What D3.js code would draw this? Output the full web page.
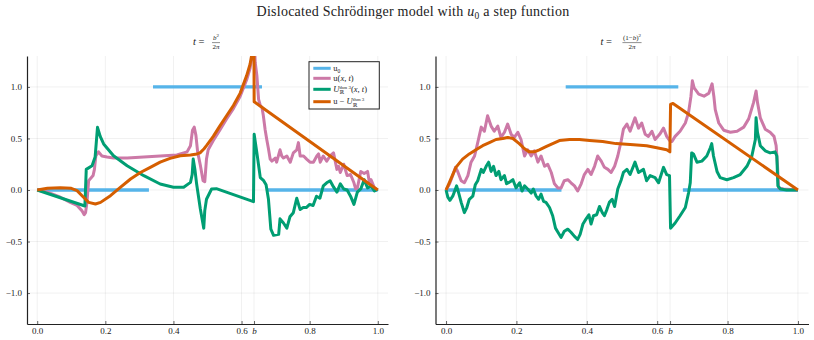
<!DOCTYPE html>
<html><head><meta charset="utf-8">
<script src="https://cdn.jsdelivr.net/npm/d3@7"></script>
<style>
body{margin:0;background:#fff}
svg{display:block}
text{font-family:"Liberation Serif","DejaVu Serif",serif;fill:#222;white-space:pre}
</style>
</head><body><svg id="c" width="814" height="340"></svg>
<script>
const B = 2 / Math.PI;
const xTicks = [0, 0.2, 0.4, 0.6, B, 0.8, 1.0];
const xTickLabels = ["0.0", "0.2", "0.4", "0.6", "b", "0.8", "1.0"];
const yTicks = [-1, -0.5, 0, 0.5, 1];
const yTickLabels = ["−1.0", "−0.5", "0.0", "0.5", "1.0"];
const colors = ["#56B4E9", "#CC79A7", "#009E73", "#D55E00"];

// u0 step function (gaps at the jumps)
const u0X = [0, 0.328, null, 0.34, 0.66, null, 0.673, 1];
const u0Y = [0, 0, null, 1, 1, null, 0, 0];

// left panel  t = b^2/(2π)
const leftU = [[0,0],[0.03,-0.02],[0.068,-0.07],[0.097,-0.12],[0.117,-0.15],[0.131,-0.2],[0.138,-0.24],[0.142,-0.22],[0.146,-0.12],[0.151,0.09],[0.156,0.11],[0.164,0.14],[0.168,0.2],[0.172,0.33],[0.18,0.37],[0.19,0.33],[0.205,0.32],[0.224,0.31],[0.264,0.31],[0.313,0.32],[0.361,0.33],[0.41,0.34],[0.44,0.37],[0.45,0.43],[0.456,0.58],[0.461,0.61],[0.466,0.53],[0.471,0.37],[0.479,0.24],[0.487,0.09],[0.492,0.08],[0.497,0.3],[0.502,0.39],[0.517,0.48],[0.536,0.58],[0.556,0.69],[0.576,0.79],[0.596,0.91],[0.615,1.07],[0.625,1.18],[0.632,1.32],[0.636,1.6],[0.64,1.24],[0.645,1.11],[0.65,0.88],[0.655,0.82],[0.66,0.80],[0.664,0.72],[0.669,0.59],[0.674,0.49],[0.679,0.4],[0.684,0.3],[0.689,0.28],[0.699,0.31],[0.703,0.27],[0.713,0.39],[0.718,0.33],[0.723,0.31],[0.733,0.33],[0.743,0.27],[0.752,0.36],[0.762,0.39],[0.767,0.46],[0.772,0.33],[0.782,0.33],[0.791,0.30],[0.801,0.27],[0.811,0.27],[0.821,0.33],[0.826,0.35],[0.831,0.27],[0.84,0.33],[0.85,0.28],[0.86,0.33],[0.87,0.36],[0.88,0.2],[0.885,0.23],[0.89,0.17],[0.9,0.25],[0.91,0.14],[0.92,0.15],[0.93,0.07],[0.935,0.01],[0.94,0.02],[0.95,0.18],[0.96,0.16],[0.97,0.18],[0.975,0.08],[0.98,0.1],[0.99,0.02],[1.0,0]];
const leftR = [[0,0],[0.14,-0.155],[0.144,0.2],[0.161,0.236],[0.17,0.32],[0.177,0.608],[0.185,0.52],[0.195,0.447],[0.224,0.333],[0.264,0.236],[0.313,0.139],[0.361,0.058],[0.4,0.026],[0.43,0.026],[0.45,0.074],[0.455,0.15],[0.458,0.30],[0.463,0.2],[0.468,0.06],[0.479,-0.184],[0.489,-0.37],[0.492,-0.2],[0.497,-0.09],[0.512,0.01],[0.526,0.013],[0.635,-0.113],[0.637,0.54],[0.645,0.36],[0.655,0.12],[0.665,0.09],[0.672,0.05],[0.679,-0.09],[0.686,-0.38],[0.694,-0.44],[0.709,-0.43],[0.713,-0.28],[0.723,-0.32],[0.733,-0.37],[0.742,-0.26],[0.752,-0.22],[0.762,-0.08],[0.772,-0.19],[0.781,-0.17],[0.79,-0.17],[0.8,-0.14],[0.81,-0.15],[0.82,-0.06],[0.83,-0.08],[0.84,0.04],[0.85,0.07],[0.86,0.09],[0.87,0.03],[0.88,-0.02],[0.89,0.06],[0.9,0.01],[0.91,0.0],[0.92,-0.06],[0.93,-0.14],[0.94,-0.02],[0.95,0.01],[0.96,0.1],[0.97,0.02],[0.98,0.04],[0.99,-0.01],[1.0,0.01]];
const leftD = [[0,0],[0.03,0.016],[0.068,0.023],[0.1,0.016],[0.117,-0.006],[0.136,-0.07],[0.151,-0.12],[0.171,-0.136],[0.186,-0.12],[0.215,-0.055],[0.244,0.026],[0.274,0.107],[0.303,0.17],[0.332,0.22],[0.361,0.27],[0.39,0.307],[0.42,0.333],[0.45,0.34],[0.469,0.35],[0.478,0.36],[0.49,0.40],[0.497,0.43],[0.517,0.52],[0.536,0.62],[0.556,0.72],[0.576,0.82],[0.596,0.94],[0.615,1.11],[0.625,1.22],[0.632,1.35],[0.636,1.7],[0.637,0.857],[1.0,0]];

// right panel  t = (1-b)^2/(2π)
const rightU = [[0,0],[0.01,0.06],[0.019,0.14],[0.027,0.22],[0.033,0.18],[0.043,0.09],[0.052,0.07],[0.062,0.14],[0.071,0.27],[0.081,0.33],[0.09,0.46],[0.1,0.61],[0.109,0.57],[0.118,0.72],[0.128,0.62],[0.137,0.57],[0.147,0.62],[0.156,0.51],[0.166,0.56],[0.175,0.64],[0.185,0.54],[0.194,0.51],[0.204,0.56],[0.213,0.49],[0.223,0.33],[0.232,0.39],[0.242,0.33],[0.251,0.38],[0.261,0.27],[0.27,0.33],[0.28,0.23],[0.289,0.25],[0.299,0.17],[0.308,0.06],[0.318,0.02],[0.327,0.02],[0.336,0.09],[0.346,0.1],[0.355,0.07],[0.365,0.04],[0.374,-0.01],[0.384,0.06],[0.393,0.15],[0.403,0.2],[0.412,0.15],[0.422,0.23],[0.431,0.33],[0.441,0.28],[0.45,0.22],[0.46,0.2],[0.469,0.17],[0.479,0.23],[0.488,0.33],[0.498,0.48],[0.504,0.59],[0.514,0.64],[0.523,0.57],[0.537,0.7],[0.547,0.6],[0.556,0.65],[0.566,0.54],[0.575,0.52],[0.585,0.57],[0.594,0.49],[0.607,0.54],[0.618,0.6],[0.627,0.52],[0.635,0.48],[0.642,0.47],[0.651,0.52],[0.665,0.57],[0.68,0.65],[0.689,0.75],[0.696,0.91],[0.7,1.06],[0.705,0.99],[0.718,0.93],[0.733,0.91],[0.747,0.94],[0.756,1.03],[0.761,0.91],[0.765,0.78],[0.775,0.65],[0.789,0.58],[0.808,0.56],[0.827,0.57],[0.846,0.61],[0.86,0.69],[0.874,0.85],[0.881,0.96],[0.885,0.85],[0.893,0.70],[0.907,0.59],[0.921,0.56],[0.932,0.52],[0.938,0.43],[0.942,0.23],[0.945,0.02],[0.959,0.01],[1.0,0]];
const rightR = [[0,0],[0.005,-0.07],[0.011,-0.1],[0.019,-0.06],[0.03,0.04],[0.036,-0.03],[0.043,-0.12],[0.052,-0.22],[0.059,-0.17],[0.066,-0.09],[0.076,-0.06],[0.083,0.05],[0.09,0.09],[0.1,0.2],[0.106,0.17],[0.114,0.23],[0.121,0.27],[0.128,0.18],[0.135,0.23],[0.142,0.14],[0.15,0.18],[0.156,0.1],[0.166,0.14],[0.172,0.06],[0.182,0.08],[0.19,0.1],[0.199,0.02],[0.209,0.07],[0.216,-0.01],[0.223,0.04],[0.232,0.01],[0.242,-0.03],[0.248,0.01],[0.256,-0.06],[0.263,-0.09],[0.27,-0.04],[0.277,-0.11],[0.284,-0.12],[0.294,-0.17],[0.303,-0.25],[0.311,-0.37],[0.318,-0.41],[0.327,-0.46],[0.336,-0.4],[0.346,-0.38],[0.355,-0.41],[0.365,-0.45],[0.374,-0.48],[0.381,-0.43],[0.389,-0.33],[0.398,-0.28],[0.406,-0.24],[0.412,-0.33],[0.419,-0.25],[0.428,-0.24],[0.436,-0.16],[0.444,-0.22],[0.45,-0.25],[0.457,-0.19],[0.464,-0.12],[0.472,-0.09],[0.479,-0.16],[0.488,0.01],[0.498,0.1],[0.504,0.17],[0.514,0.2],[0.523,0.15],[0.537,0.27],[0.547,0.17],[0.561,0.2],[0.57,0.09],[0.58,0.14],[0.594,0.12],[0.604,0.07],[0.618,0.22],[0.627,0.15],[0.635,0.14],[0.638,-0.37],[0.651,-0.32],[0.665,-0.25],[0.68,-0.17],[0.689,-0.03],[0.694,0.07],[0.698,0.36],[0.703,0.35],[0.713,0.27],[0.727,0.28],[0.741,0.33],[0.751,0.41],[0.755,0.45],[0.76,0.33],[0.77,0.18],[0.779,0.12],[0.798,0.1],[0.817,0.12],[0.836,0.15],[0.855,0.23],[0.869,0.33],[0.879,0.49],[0.881,0.7],[0.885,0.56],[0.893,0.43],[0.907,0.38],[0.921,0.36],[0.935,0.37],[0.94,0.33],[0.943,0.04],[0.95,0.01],[0.968,0],[1.0,0]];
const rightD = [[0,0],[0.009,0.07],[0.019,0.15],[0.028,0.22],[0.047,0.30],[0.066,0.35],[0.085,0.39],[0.104,0.43],[0.123,0.46],[0.142,0.49],[0.161,0.50],[0.175,0.51],[0.19,0.50],[0.208,0.45],[0.223,0.40],[0.237,0.37],[0.251,0.37],[0.265,0.39],[0.284,0.42],[0.303,0.45],[0.322,0.48],[0.351,0.49],[0.379,0.49],[0.408,0.48],[0.445,0.47],[0.483,0.45],[0.533,0.44],[0.57,0.43],[0.599,0.41],[0.627,0.39],[0.636,0.37],[0.638,0.83],[0.645,0.84],[1.0,0]];

const svg = d3.select("#c");
const FONT = '"Liberation Serif","DejaVu Serif",serif';

// rich text helper: sequential text pieces measured & placed
function rich(g, x, y, parts, anchor, ls) {
  const grp = g.append("g");
  let cx = 0, prevX = 0;
  parts.forEach(p => {
    const el = grp.append("text")
      .attr("y", p.dy || 0)
      .style("font-family", FONT)
      .style("font-size", (p.fs || 8) + "px")
      .style("font-style", p.it ? "italic" : "normal")
      .style("letter-spacing", (ls || 0) + "px")
      .text(p.t);
    const w = el.node().getComputedTextLength();
    if (p.stack) { el.attr("x", prevX); cx = Math.max(cx, prevX + w); }
    else { el.attr("x", cx); prevX = cx; cx += w; }
  });
  const off = anchor === "middle" ? -cx / 2 : anchor === "end" ? -cx : 0;
  grp.attr("transform", `translate(${x + off},${y})`);
  return cx;
}

// main title
rich(svg, 413, 16, [
  {t: "Dislocated Schrödinger model with ", fs: 14},
  {t: "u", it: true, fs: 14},
  {t: "0", fs: 9.5, dy: 2.5},
  {t: " a step function", fs: 14}
], "middle", 0.25);

const yScale = d3.scaleLinear().domain([-1.3, 1.3]).range([324, 56]);
const panels = [
  {range: [27, 388], U: leftU, R: leftR, D: leftD, legend: true,
   num: [{t: "b", it: true, fs: 7}, {t: "2", fs: 5, dy: -3}], eqShift: -3, fracShift: 8.5},
  {range: [435.5, 808.5], U: rightU, R: rightR, D: rightD, legend: false,
   num: [{t: "(1−", fs: 7}, {t: "b", it: true, fs: 7}, {t: ")", fs: 7}, {t: "2", fs: 5, dy: -3}], eqShift: -10, fracShift: 10}
];

panels.forEach((p, pi) => {
  const x = d3.scaleLinear().domain([-0.03, 1.03]).range(p.range);
  const g = svg.append("g");
  const [x0, x1] = p.range;
  const [yb, yt] = yScale.range();

  // grid
  g.append("g").selectAll("line").data(xTicks).join("line")
    .attr("x1", d => x(d)).attr("x2", d => x(d)).attr("y1", yt).attr("y2", yb)
    .attr("stroke", "#000").attr("stroke-opacity", 0.1).attr("stroke-width", 0.6);
  g.append("g").selectAll("line").data(yTicks).join("line")
    .attr("x1", x0).attr("x2", x1).attr("y1", d => yScale(d)).attr("y2", d => yScale(d))
    .attr("stroke", "#000").attr("stroke-opacity", 0.1).attr("stroke-width", 0.6);

  // clip
  const cid = "clip" + pi;
  svg.append("clipPath").attr("id", cid).append("rect")
    .attr("x", x0).attr("y", yt).attr("width", x1 - x0).attr("height", yb - yt);
  const lg = g.append("g").attr("clip-path", `url(#${cid})`);

  const u0pts = u0X.map((v, i) => [v, u0Y[i]]);
  const line = d3.line().defined(d => d[0] !== null).x(d => x(d[0])).y(d => yScale(d[1]));
  [u0pts, p.U, p.R, p.D].forEach((data, si) => {
    lg.append("path").attr("d", line(data)).attr("fill", "none")
      .attr("stroke", colors[si]).attr("stroke-width", si === 0 ? 3.3 : 3)
      .attr("stroke-linejoin", "round").attr("stroke-linecap", "butt");
  });

  // axes
  const ax = g.append("g").attr("transform", `translate(0,${yb})`)
    .call(d3.axisBottom(x).tickValues(xTicks).tickFormat((d, i) => xTickLabels[i])
      .tickSize(-3).tickSizeOuter(0).tickPadding(3.5));
  ax.attr("font-family", null);
  ax.selectAll("text").style("font-family", FONT).style("font-size", "9px").style("fill", "#222")
    .style("font-style", (d, i) => xTickLabels[i] === "b" ? "italic" : "normal");
  const ay = g.append("g").attr("transform", `translate(${x0},0)`)
    .call(d3.axisLeft(yScale).tickValues(yTicks).tickFormat((d, i) => yTickLabels[i])
      .tickSize(-3).tickSizeOuter(0).tickPadding(5));
  ay.attr("font-family", null);
  ay.selectAll("text").style("font-family", FONT).style("font-size", "9px").style("fill", "#222");
  [ax, ay].forEach(a => {
    a.select(".domain").attr("stroke", "#222").attr("stroke-width", 1.2);
    a.selectAll(".tick line").attr("stroke", "#222").attr("stroke-width", 0.7);
  });

  // subplot title
  const cx = (x0 + x1) / 2;
  rich(svg, cx + p.eqShift, 44.5, [{t: "t", it: true, fs: 10.5}, {t: " =", fs: 10.5}], "end");
  const fc = cx + p.fracShift;
  const wn = rich(svg, fc, 40.4, p.num, "middle");
  const wd = rich(svg, fc, 48.6, [{t: "2", fs: 7}, {t: "π", it: true, fs: 7}], "middle");
  const bw = Math.max(wn, wd) + 1;
  svg.append("line").attr("x1", fc - bw / 2).attr("x2", fc + bw / 2)
    .attr("y1", 42.6).attr("y2", 42.6).attr("stroke", "#222").attr("stroke-width", 0.5);

  // legend
  if (p.legend) {
    const lgd = svg.append("g");
    lgd.append("rect").attr("x", 309).attr("y", 61.7).attr("width", 70.3).attr("height", 47.3)
      .attr("fill", "#fff").attr("stroke", "#222").attr("stroke-width", 1);
    const ys = [68.3, 78.3, 89.3, 101.7];
    const labels = [
      [{t: "u", fs: 8.5}, {t: "0", fs: 5.5, dy: 1.8}],
      [{t: "u(", fs: 8.5}, {t: "x", it: true, fs: 8.5}, {t: ", ", fs: 8.5}, {t: "t", it: true, fs: 8.5}, {t: ")", fs: 8.5}],
      [{t: "U", it: true, fs: 8.5}, {t: "ℝ", fs: 5.5, dy: 2.2}, {t: "thm 3", fs: 5, dy: -3.2, stack: true},
       {t: "(", fs: 8.5}, {t: "x", it: true, fs: 8.5}, {t: ", ", fs: 8.5}, {t: "t", it: true, fs: 8.5}, {t: ")", fs: 8.5}],
      [{t: "u − ", fs: 8.5}, {t: "U", it: true, fs: 8.5}, {t: "ℝ", fs: 5.5, dy: 2.2}, {t: "thm 3", fs: 5, dy: -3.2, stack: true}]
    ];
    ys.forEach((yy, i) => {
      lgd.append("line").attr("x1", 313.3).attr("x2", 330.7).attr("y1", yy).attr("y2", yy)
        .attr("stroke", colors[i]).attr("stroke-width", 3);
      rich(lgd, 333.3, yy + 2.6, labels[i], "start");
    });
  }
});
</script>
</body></html>
